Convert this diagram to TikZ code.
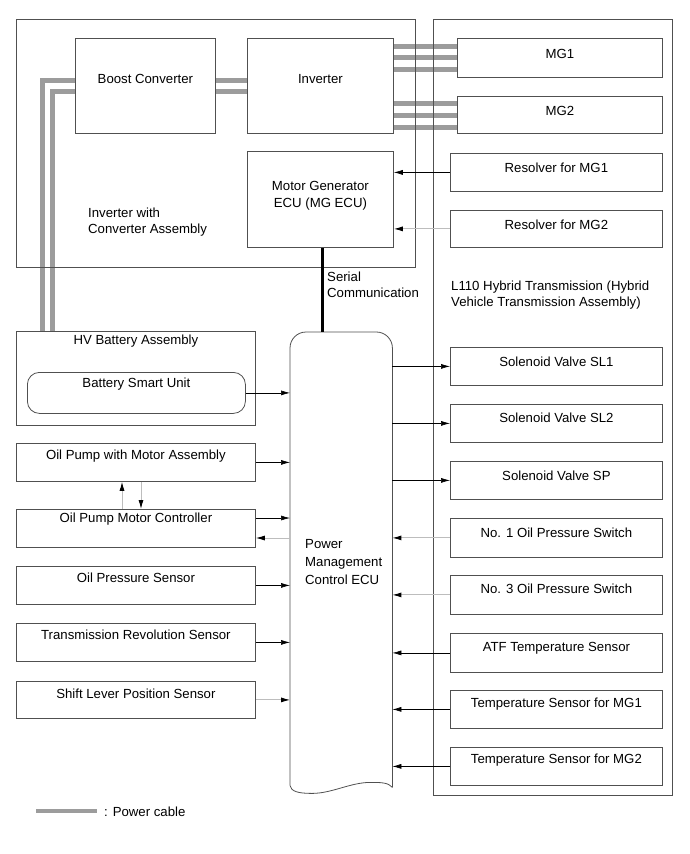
\documentclass[tikz,border=0pt]{standalone}
\usepackage{fontspec}
\setmainfont{Liberation Sans}
\usetikzlibrary{arrows.meta,calc}
\definecolor{boxc}{HTML}{505050}
\definecolor{lgray}{HTML}{BDBDBD}
\definecolor{cablec}{HTML}{9C9C9C}
\pgfdeclarelayer{bg}
\pgfsetlayers{bg,main}
\begin{document}
\begin{tikzpicture}[x=1pt,y=-1pt, font=\fontsize{13.2}{16.5}\selectfont,
  box/.style={draw=boxc, line width=0.8pt, inner sep=0pt, anchor=north west},
  arr/.style={draw=black, line width=0.6pt, -{Latex[length=9pt,width=5pt]}},
  garr/.style={draw=lgray, line width=0.9pt, -{Latex[length=9pt,width=5pt,color=black]}},
  cable/.style={draw=cablec, line width=5pt, line join=miter},
  lbl/.style={inner sep=0pt, align=left, anchor=west}]
\useasboundingbox (0,0) rectangle (690,854);

% assemblies
\node[box, minimum width=399pt, minimum height=248pt] (asm) at (16,19) {};
\node[box, minimum width=239pt, minimum height=776pt] (trans) at (433,19) {};
\node[lbl] (asmlbl) at (88,222) {Inverter with\\Converter Assembly};
\node[lbl] (translbl) at (451,295) {L110 Hybrid Transmission (Hybrid\\Vehicle Transmission Assembly)};

% top blocks
\node[box, minimum width=140pt, minimum height=95pt, text height=45pt, text depth=50pt] (boost) at (75,38) {Boost Converter};
\node[box, minimum width=146pt, minimum height=95pt, text height=45pt, text depth=50pt] (inv) at (247,38) {Inverter};
\node[box, minimum width=205pt, minimum height=39pt, text height=20pt, text depth=19pt] (mg1) at (457,38) {MG1};
\node[box, minimum width=205pt, minimum height=37pt, text height=19pt, text depth=18pt] (mg2) at (457,96) {MG2};
\node[box, minimum width=146pt, minimum height=96pt, align=center, inner ysep=3pt] (mgecu) at (247,151) {Motor Generator\\ECU (MG ECU)\\[-6pt]\mbox{}};
\node[box, minimum width=212pt, minimum height=38pt, text height=19pt, text depth=19pt] (res1) at (450,153) {Resolver for MG1};
\node[box, minimum width=212pt, minimum height=37pt, text height=19pt, text depth=18pt] (res2) at (450,210) {Resolver for MG2};

% left blocks
\node[box, minimum width=239pt, minimum height=94pt, text height=13pt, text depth=81pt] (hv) at (16,331) {HV Battery Assembly};
\node[box, rounded corners=12pt, minimum width=218pt, minimum height=41pt, text height=15pt, text depth=26pt] (bsu) at (27,372) {Battery Smart Unit};
\node[box, minimum width=239pt, minimum height=38pt, text height=16pt, text depth=22pt] (op) at (16,443) {Oil Pump with Motor Assembly};
\node[box, minimum width=239pt, minimum height=38pt, text height=13pt, text depth=25pt] (opc) at (16,509) {Oil Pump Motor Controller};
\node[box, minimum width=239pt, minimum height=38pt, text height=16pt, text depth=22pt] (ops) at (16,566) {Oil Pressure Sensor};
\node[box, minimum width=239pt, minimum height=38pt, text height=16pt, text depth=22pt] (trs) at (16,623) {Transmission Revolution Sensor};
\node[box, minimum width=239pt, minimum height=37pt, text height=17pt, text depth=20pt] (slps) at (16,681) {Shift Lever Position Sensor};

% right blocks
\node[box, minimum width=212pt, minimum height=38pt, text height=19pt, text depth=19pt] (sl1) at (450,347) {Solenoid Valve SL1};
\node[box, minimum width=212pt, minimum height=38pt, text height=18pt, text depth=20pt] (sl2) at (450,404) {Solenoid Valve SL2};
\node[box, minimum width=212pt, minimum height=38pt, text height=19pt, text depth=19pt] (sp) at (450,461) {Solenoid Valve SP};
\node[box, minimum width=212pt, minimum height=39pt, text height=19pt, text depth=20pt] (no1) at (450,518) {No. 1 Oil Pressure Switch};
\node[box, minimum width=212pt, minimum height=39pt, text height=18pt, text depth=21pt] (no3) at (450,575) {No. 3 Oil Pressure Switch};
\node[box, minimum width=212pt, minimum height=39pt, text height=18pt, text depth=21pt] (atf) at (450,633) {ATF Temperature Sensor};
\node[box, minimum width=212pt, minimum height=38pt, text height=17pt, text depth=21pt] (tmg1) at (450,690) {Temperature Sensor for MG1};
\node[box, minimum width=212pt, minimum height=38pt, text height=16pt, text depth=22pt] (tmg2) at (450,747) {Temperature Sensor for MG2};

% power management ECU
\node[inner sep=0pt, anchor=north west, minimum width=102pt, minimum height=453pt] (ecu) at (290,332) {};
\node[inner sep=0pt, align=left, anchor=north west, font=\fontsize{13.2}{18}\selectfont] (ecutxt) at (305,539) {Power\\Management\\Control ECU};
\draw[boxc, line width=0.8pt, rounded corners=16pt] (ecu.south west) -- (ecu.north west) -- (ecu.north east) -- ([yshift=-2pt]ecu.south east);
\draw[boxc, line width=0.8pt] ([yshift=-2pt]ecu.south east) .. controls ($(ecu.south east)+(-4,-3)$) and ($(ecu.south east)+(-12,-3)$) .. ($(ecu.south east)+(-22,-3)$) .. controls ($(ecu.south east)+(-42,-3)$) and ($(ecu.south west)+(42,8)$) .. ($(ecu.south west)+(22,8)$) .. controls ($(ecu.south west)+(8,8)$) and ($(ecu.south west)+(1,6)$) .. (ecu.south west);

% serial communication
\draw[line width=2.2pt] ([xshift=2pt]mgecu.south) -- ([xshift=2pt]mgecu.south |- ecu.north);
\node[lbl] (serlbl) at (327,285) {Serial\\Communication};

% power cables
\begin{pgfonlayer}{bg}
\draw[cable] ([yshift=-42pt]boost.north west) -| ([xshift=26pt]hv.north west);
\draw[cable] ([yshift=-53pt]boost.north west) -| ([xshift=36pt]hv.north west);
\draw[cable] ([yshift=-42pt]boost.north east) -- ([yshift=-42pt]inv.north west);
\draw[cable] ([yshift=-53pt]boost.north east) -- ([yshift=-53pt]inv.north west);
\draw[cable] ([yshift=-8pt]inv.north east) -- ([yshift=-8pt]mg1.north west);
\draw[cable] ([yshift=-19.5pt]inv.north east) -- ([yshift=-19.5pt]mg1.north west);
\draw[cable] ([yshift=-31pt]inv.north east) -- ([yshift=-31pt]mg1.north west);
\draw[cable] ([yshift=-65pt]inv.north east) -- ([yshift=-7pt]mg2.north west);
\draw[cable] ([yshift=-77pt]inv.north east) -- ([yshift=-19pt]mg2.north west);
\draw[cable] ([yshift=-89pt]inv.north east) -- ([yshift=-31pt]mg2.north west);
\end{pgfonlayer}

% resolver signals
\draw[arr] (res1.west) -- (res1.west -| mgecu.east);
\draw[garr] (res2.west) -- (res2.west -| mgecu.east);

% left side signals
\draw[arr] (bsu.east) -- (bsu.east -| ecu.west);
\draw[arr] (op.east) -- (op.east -| ecu.west);
\draw[arr] ([yshift=-9pt]opc.north east) -- ([yshift=-9pt]opc.north east -| ecu.west);
\draw[garr] ([yshift=-29pt]opc.north east -| ecu.west) -- ([yshift=-29pt]opc.north east);
\draw[garr] ([xshift=106pt]opc.north west) -- ([xshift=106pt]op.south west);
\draw[garr] ([xshift=125pt]op.south west) -- ([xshift=125pt]opc.north west);
\draw[arr] (ops.east) -- (ops.east -| ecu.west);
\draw[arr] (trs.east) -- (trs.east -| ecu.west);
\draw[garr] (slps.east) -- (slps.east -| ecu.west);

% right side signals
\draw[arr] (sl1.west -| ecu.east) -- (sl1.west);
\draw[arr] (sl2.west -| ecu.east) -- (sl2.west);
\draw[arr] (sp.west -| ecu.east) -- (sp.west);
\draw[garr] (no1.west) -- (no1.west -| ecu.east);
\draw[garr] (no3.west) -- (no3.west -| ecu.east);
\draw[arr] (atf.west) -- (atf.west -| ecu.east);
\draw[arr] (tmg1.west) -- (tmg1.west -| ecu.east);
\draw[arr] (tmg2.west) -- (tmg2.west -| ecu.east);

% legend
\coordinate (lg1) at (36,811);
\coordinate (lg2) at (97,811);
\draw[draw=cablec, line width=4pt] (lg1) -- (lg2);
\node[inner sep=0pt, anchor=west] (lgt) at (104,812) {: Power cable};
\end{tikzpicture}
\end{document}
